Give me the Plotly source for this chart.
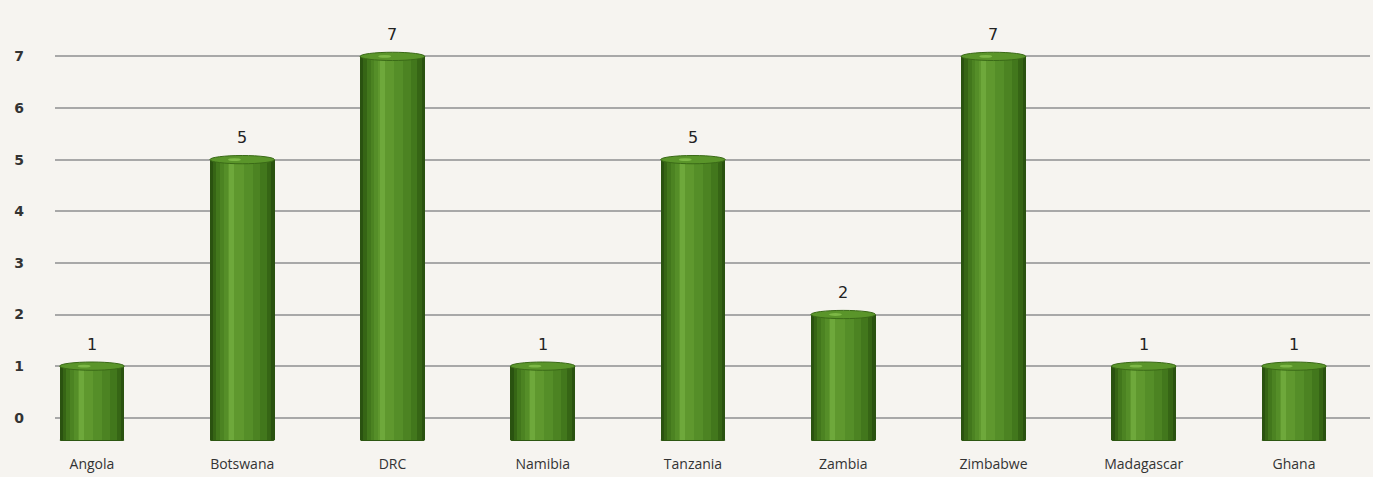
import plotly.graph_objects as go

# Number of entries per country
countries = ["Angola", "Botswana", "DRC", "Namibia", "Tanzania",
             "Zambia", "Zimbabwe", "Madagascar", "Ghana"]
counts = [1, 5, 7, 1, 5, 2, 7, 1, 1]
y_ticks = [0, 1, 2, 3, 4, 5, 6, 7]

BASE = -0.43          # cylinders stand slightly below the zero line
BAR_W = 0.43          # cylinder width in category units
CAP_H = 0.08          # half-height of the elliptical caps (data units)

# Horizontal shading layers: (width fraction, colour, centre shift as width fraction)
layers = [
    (1.00, "#2a5210", 0.00),
    (0.90, "#366515", 0.00),
    (0.78, "#42771c", -0.01),
    (0.62, "#4c8322", -0.03),
    (0.44, "#558e28", -0.06),
    (0.24, "#5f982e", -0.10),
    (0.08, "#6ea83b", -0.16),
]

fig = go.Figure()
lengths = [v - BASE for v in counts]
for frac, color, shift in layers:
    w = BAR_W * frac
    fig.add_trace(go.Bar(
        x=countries, y=lengths, base=BASE,
        width=w, offset=-w / 2 + shift * BAR_W,
        marker=dict(color=color, line=dict(width=0)),
        hoverinfo="skip", showlegend=False,
    ))

shapes = []
for i, v in enumerate(counts):
    # rounded bottom
    shapes.append(dict(type="circle", xref="x", yref="y", layer="between",
                       x0=i - BAR_W / 2, x1=i + BAR_W / 2,
                       y0=BASE - CAP_H, y1=BASE + CAP_H,
                       fillcolor="#2d5712", line=dict(width=0)))
    # top cap
    shapes.append(dict(type="circle", xref="x", yref="y", layer="above",
                       x0=i - BAR_W / 2, x1=i + BAR_W / 2,
                       y0=v - CAP_H, y1=v + CAP_H,
                       fillcolor="#5a952a", line=dict(color="#3a6a17", width=1)))
    # highlight on the cap
    shapes.append(dict(type="circle", xref="x", yref="y", layer="above",
                       x0=i - BAR_W * 0.22, x1=i - BAR_W * 0.02,
                       y0=v - CAP_H * 0.35, y1=v + CAP_H * 0.35,
                       fillcolor="#86c04d", line=dict(width=0), opacity=0.8))

annotations = [
    dict(x=c, y=v, yshift=22, text=str(v), showarrow=False,
         font=dict(family="DejaVu Sans", size=16, color="#222222"))
    for c, v in zip(countries, counts)
]

fig.update_layout(
    width=1373, height=477,
    margin=dict(l=55, r=3, t=28, b=36),
    paper_bgcolor="#f6f4f0", plot_bgcolor="#f6f4f0",
    barmode="overlay", bargap=0,
    shapes=shapes, annotations=annotations,
    showlegend=False,
)
fig.update_xaxes(
    type="category", range=[-0.246, 8.506],
    showgrid=False, zeroline=False, showline=False,
    ticks="", ticklabelstandoff=13,
    tickfont=dict(family="Open Sans", size=14, color="#333333"),
)
fig.update_yaxes(
    range=[BASE - 0.02, 7.55],
    tickvals=y_ticks, ticktext=[str(t) for t in y_ticks],
    showgrid=True, gridcolor="#a8a8a8", gridwidth=2,
    zeroline=False, showline=False, ticks="",
    ticklabelstandoff=30,
    tickfont=dict(family="DejaVu Sans", size=14, color="#333333", weight="bold"),
)

fig.write_html("out.html")
